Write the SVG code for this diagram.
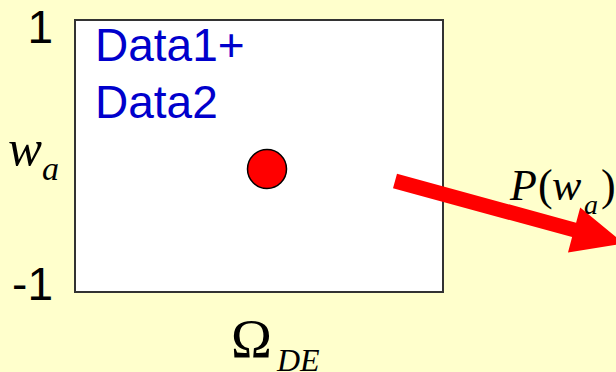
<svg xmlns="http://www.w3.org/2000/svg" width="616" height="372" viewBox="0 0 616 372">
<style>
.sans{font-family:"Liberation Sans",Arial,sans-serif;font-size:46px;fill:#000}
.blue{fill:#0000CC}
.serif{font-family:"Liberation Serif","Times New Roman",serif;fill:#000}
.it{font-style:italic}
</style>
<rect x="0" y="0" width="616" height="372" fill="#FFFFCC"/>
<g id="plot">
<rect x="75" y="20" width="368" height="272" fill="#FFFFFF" stroke="#333333" stroke-width="2"/>
</g>
<g id="labels">
<text class="sans" x="53" y="43" text-anchor="end">1</text>
<text class="sans" x="53" y="300" text-anchor="end">-1</text>
<text class="sans blue" x="95" y="61">Data1+</text>
<text class="sans blue" x="95" y="118">Data2</text>
<text class="serif it" x="8" y="165" font-size="51">w</text>
<text class="serif it" x="42" y="180" font-size="34">a</text>
<text class="serif" x="231" y="357" font-size="55">Ω</text>
<text class="serif it" x="277" y="371" font-size="32">DE</text>
</g>
<g id="point">
<circle cx="267" cy="169" r="19.5" fill="#FF0000" stroke="#000000" stroke-width="1.5"/>
</g>
<g id="connectors">
<polygon points="393,188.2 397,173.8 576.1,222.7 580.2,207.4 624,243.5 568,252.4 572.1,237.1" fill="#FF0000"/>
</g>
<g id="plabel">
<text class="serif" y="200" font-size="44"><tspan class="it" x="510">P</tspan><tspan x="538">(</tspan><tspan class="it" x="552">w</tspan><tspan x="601">)</tspan></text>
<text class="serif it" x="584" y="214" font-size="28">a</text>
</g>
</svg>
